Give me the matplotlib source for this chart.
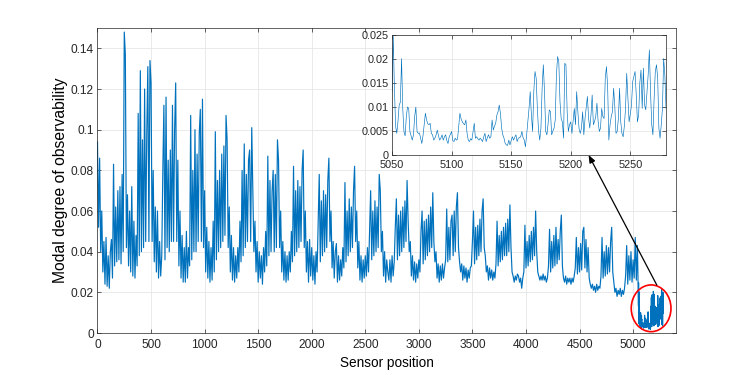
import numpy as np
import matplotlib
matplotlib.use("Agg")
import matplotlib.pyplot as plt
from matplotlib.patches import Ellipse, ConnectionPatch

plt.rcParams['font.family'] = ['Liberation Sans', 'DejaVu Sans']

# ---------------- data (values in units of 1e-3) ----------------
# main curve, one value every 10 sensors from 0 to 5040
main_step = 10
mdo_main_milli = [
    94, 52, 86, 40, 60, 30, 45, 24, 47, 23,
    38, 22, 40, 46, 27, 83, 33, 62, 35, 70,
    36, 72, 34, 78, 40, 148, 137, 42, 68, 33,
    60, 30, 72, 28, 55, 27, 48, 33, 108, 38,
    129, 40, 95, 42, 120, 45, 98, 131, 45, 134,
    123, 45, 80, 35, 62, 30, 60, 27, 45, 28,
    38, 80, 112, 36, 116, 42, 85, 40, 90, 45,
    112, 45, 100, 123, 45, 85, 33, 60, 27, 48,
    25, 42, 25, 50, 27, 42, 33, 107, 36, 80,
    40, 100, 40, 88, 45, 98, 110, 45, 115, 42,
    70, 30, 52, 27, 45, 25, 42, 26, 55, 30,
    99, 36, 75, 40, 80, 42, 88, 45, 92, 48,
    107, 95, 42, 62, 30, 48, 26, 42, 25, 38,
    27, 42, 30, 55, 35, 80, 38, 93, 42, 78,
    45, 85, 90, 45, 101, 70, 40, 55, 30, 45,
    25, 40, 27, 38, 24, 42, 30, 50, 33, 87,
    38, 75, 40, 70, 80, 40, 78, 42, 95, 85,
    42, 60, 30, 45, 26, 40, 25, 38, 26, 40,
    30, 50, 35, 82, 38, 70, 40, 75, 42, 72,
    45, 80, 90, 42, 60, 30, 45, 25, 46, 28,
    42, 26, 38, 24, 40, 30, 55, 78, 35, 65,
    38, 70, 40, 68, 42, 75, 86, 45, 60, 32,
    45, 27, 40, 44, 25, 38, 26, 36, 28, 42,
    32, 74, 35, 60, 38, 66, 40, 62, 42, 70,
    82, 45, 60, 32, 45, 26, 38, 25, 36, 27,
    38, 28, 42, 30, 50, 70, 36, 60, 38, 65,
    40, 62, 42, 78, 70, 40, 50, 28, 40, 25,
    36, 30, 26, 36, 25, 38, 28, 35, 52, 66, 36,
    58, 38, 60, 40, 62, 42, 65, 45, 75, 55,
    40, 45, 28, 38, 26, 35, 25, 34, 27, 36,
    30, 50, 60, 34, 55, 36, 56, 38, 58, 40,
    62, 42, 69, 45, 35, 40, 27, 34, 25, 33,
    26, 34, 27, 32, 36, 61, 35, 52, 36, 55,
    58, 38, 60, 40, 62, 69, 42, 35, 30, 34,
    26, 33, 27, 32, 25, 31, 27, 32, 33, 45,
    60, 34, 52, 36, 53, 38, 56, 40, 60, 66,
    42, 38, 30, 33, 26, 32, 27, 31, 26, 30,
    27, 34, 55, 33, 48, 35, 50, 36, 52, 38,
    54, 38, 56, 40, 63, 42, 30, 28, 25, 28,
    26, 29, 28, 25, 27, 22, 27, 30, 53, 32, 45,
    33, 48, 35, 50, 36, 52, 38, 60, 40, 30,
    28, 26, 28, 26, 29, 26, 28, 25, 27, 33,
    51, 30, 45, 32, 48, 33, 52, 34, 46, 36,
    50, 58, 33, 27, 25, 28, 24, 27, 25, 27,
    24, 27, 25, 28, 32, 47, 29, 42, 30, 44,
    31, 50, 52, 32, 46, 30, 42, 27, 24, 22,
    24, 21, 23, 20, 24, 21, 23, 22, 28, 47,
    27, 40, 28, 43, 29, 42, 30, 45, 52, 30,
    25, 20, 22, 18, 21, 19, 22, 18, 21, 19,
    22, 28, 43, 24, 38, 26, 40, 25, 36, 27,
    47, 26, 43,
]

# zoomed region, one value per sensor from 5050 to 5280
inset_start = 5050
mdo_inset_milli = [
    13.2, 24.7, 14.0, 6.0, 4.5, 7.0, 10.4, 11.0, 20.1, 9.7,
    4.9, 4.0, 8.0, 10.0, 9.7, 4.9, 4.0, 3.1, 4.2, 8.0,
    10.0, 4.9, 4.5, 4.6, 3.5, 2.4, 4.0, 6.3, 8.7, 7.3,
    6.5, 6.3, 6.6, 4.5, 4.2, 3.1, 3.5, 4.2, 5.2, 4.0,
    3.1, 3.5, 4.2, 3.1, 3.8, 4.2, 3.0, 2.4, 3.8, 4.3,
    4.9, 3.0, 2.8, 3.5, 3.1, 3.3, 6.0, 8.7, 7.5, 6.9,
    6.5, 6.3, 7.3, 4.5, 3.1, 2.8, 3.4, 3.1, 4.8, 6.6,
    3.5, 3.8, 3.4, 3.1, 3.5, 3.2, 2.8, 3.8, 4.5, 2.8,
    3.6, 4.2, 3.5, 3.8, 7.3, 5.2, 6.0, 6.6, 8.3, 9.0,
    10.4, 8.7, 5.6, 4.2, 3.5, 2.4, 2.1, 2.0, 3.1, 2.1,
    3.0, 3.8, 3.1, 3.7, 4.2, 2.8, 3.5, 3.6, 3.8, 4.9,
    3.6, 3.1, 1.7, 4.2, 7.0, 9.7, 13.2, 8.3, 4.9, 13.2,
    17.4, 16.0, 9.7, 5.0, 3.1, 5.6, 13.9, 18.8, 13.2, 4.9,
    4.2, 6.5, 9.4, 9.0, 4.2, 5.0, 5.6, 7.3, 16.7, 20.5,
    19.4, 11.1, 7.5, 6.9, 3.5, 19.1, 18.8, 9.0, 4.9, 6.3,
    6.9, 4.5, 7.0, 9.7, 6.3, 13.2, 9.0, 5.5, 4.5, 5.6,
    9.0, 4.2, 7.6, 10.0, 12.2, 7.6, 5.6, 8.3, 12.5, 6.3,
    7.0, 8.0, 10.8, 7.0, 4.9, 5.6, 9.7, 8.0, 7.6, 16.0,
    18.4, 14.2, 3.1, 6.3, 8.0, 9.0, 13.9, 10.1, 4.5, 4.9,
    7.6, 13.9, 6.9, 4.5, 3.8, 6.0, 9.7, 17.0, 11.8, 6.9,
    8.5, 10.4, 15.3, 16.3, 17.4, 12.5, 6.9, 8.3, 15.0, 17.7,
    9.7, 18.1, 10.4, 9.4, 13.2, 16.7, 21.9, 13.2, 6.3, 4.2,
    11.8, 17.4, 18.8, 16.0, 5.6, 3.5, 6.3, 9.7, 20.1, 16.7,
    9.7,
]

main_xticks = [0, 500, 1000, 1500, 2000, 2500, 3000, 3500, 4000, 4500, 5000]
main_yticks = [0, 0.02, 0.04, 0.06, 0.08, 0.1, 0.12, 0.14]
main_ytick_labels = ['0', '0.02', '0.04', '0.06', '0.08', '0.1', '0.12', '0.14']
inset_xticks = [5050, 5100, 5150, 5200, 5250]
inset_yticks = [0, 0.005, 0.01, 0.015, 0.02, 0.025]
inset_ytick_labels = ['0', '0.005', '0.01', '0.015', '0.02', '0.025']

# ---------------- assemble series ----------------
x_main = np.arange(len(mdo_main_milli)) * main_step
y_main = np.array(mdo_main_milli) / 1000.0
x_in = inset_start + np.arange(len(mdo_inset_milli))
y_in = np.array(mdo_inset_milli) / 1000.0
x_all = np.concatenate([x_main, x_in])
y_all = np.concatenate([y_main, y_in])

LINE = '#0072BD'
EDGE = '#262626'
GRID = '#e6e6e6'

fig = plt.figure(figsize=(7.47, 3.75), dpi=100)
fig.patch.set_facecolor('white')


def style(ax, fs, xpad, ypad):
    ax.grid(True, color=GRID, linewidth=0.6)
    ax.set_axisbelow(True)
    for sp in ax.spines.values():
        sp.set_color(EDGE)
        sp.set_linewidth(0.5)
    ax.tick_params(direction='in', length=3, width=0.5, colors=EDGE,
                   top=True, right=True, labelsize=fs)
    ax.tick_params(axis='x', pad=xpad)
    ax.tick_params(axis='y', pad=ypad)


ax = fig.add_axes([0.1305, 0.112, 0.7744, 0.8133])
ax.plot(x_all, y_all, color=LINE, linewidth=0.85)
ax.set_xlim(0, 5400)
ax.set_ylim(0, 0.15)
ax.set_xticks(main_xticks)
ax.set_xticklabels([str(t) for t in main_xticks])
ax.set_yticks(main_yticks)
ax.set_yticklabels(main_ytick_labels)
style(ax, 8.6, 4.6, 2.5)
ax.set_xlabel('Sensor position', fontsize=9.8, labelpad=3.5)
ax.set_ylabel('Modal degree of observability', fontsize=11.3, labelpad=2)

# red circle around the zoomed region
circ = Ellipse((5168, 0.01215), width=371, height=0.023, fill=False,
               edgecolor='#FF0000', linewidth=1.2, zorder=5, clip_on=False)
ax.add_patch(circ)

# inset
axi = fig.add_axes([0.5248, 0.5867, 0.3668, 0.32])
axi.set_facecolor('white')
axi.plot(x_in, y_in, color=LINE, linewidth=0.45)
axi.set_xlim(5050, 5280)
axi.set_ylim(0, 0.025)
axi.set_xticks(inset_xticks)
axi.set_xticklabels([str(t) for t in inset_xticks])
axi.set_yticks(inset_yticks)
axi.set_yticklabels(inset_ytick_labels)
style(axi, 7.8, 3.3, 2.5)

# arrow from circle to inset
con = ConnectionPatch(xyA=(5221, 0.0236), coordsA=ax.transData,
                      xyB=(5215, 0.0), coordsB=axi.transData,
                      arrowstyle='-|>,head_length=0.45,head_width=0.18',
                      color='black', linewidth=0.9, zorder=10)
fig.add_artist(con)

fig.savefig('out.png', dpi=100, facecolor='white')
